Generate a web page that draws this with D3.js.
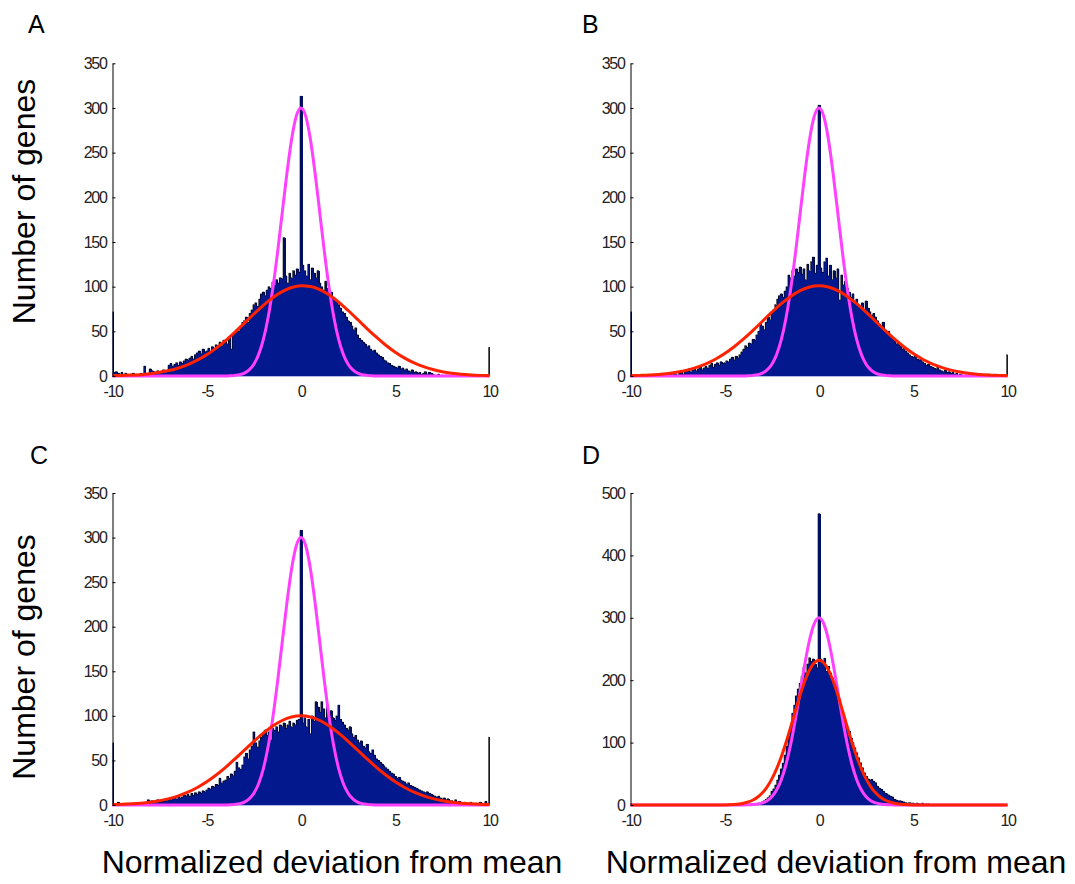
<!DOCTYPE html>
<html>
<head>
<meta charset="utf-8">
<script src="https://cdn.jsdelivr.net/npm/d3@7"></script>
<style>
body { margin: 0; background: #fff; }
svg { display: block; }
.axis text { font-family: "Liberation Sans", Arial, sans-serif; font-size: 16px; fill: #222; letter-spacing: -1.3px; }
.big { font-family: "Liberation Sans", Arial, sans-serif; font-size: 32px; fill: #000; }
.letter { font-family: "Liberation Sans", Arial, sans-serif; font-size: 25px; fill: #000; }
</style>
</head>
<body>
<div id="chart"></div>
<script>
const W = 1075, H = 884;

// histogram bins: centres -10, -9.9, ... 10 (201 bins, width 0.1)
const binWidth = 0.1;
const binCenters = d3.range(201).map(i => -10 + i / 10);

const xTicks = [-10, -5, 0, 5, 10];

// bin counts, one row per unit of x
const histA = [
  72, 4, 5, 3, 2, 4, 1, 3, 2, 1,
  2, 3, 1, 2, 1, 3, 2, 11, 2, 3,
  8, 6, 5, 4, 6, 5, 4, 7, 6, 5,
  12, 14, 11, 13, 15, 12, 16, 14, 17, 19,
  18, 20, 22, 19, 24, 26, 28, 25, 30, 27,
  28, 31, 26, 33, 30, 35, 32, 38, 34, 40,
  40, 36, 44, 30, 46, 48, 52, 50, 56, 60,
  62, 66, 60, 70, 74, 80, 82, 78, 86, 92,
  94, 90, 96, 100, 98, 105, 102, 108, 104, 110,
  109, 155, 112, 104, 115, 110, 118, 113, 120, 116,
  313, 124, 118, 112, 125, 108, 121, 115, 110, 118,
  104, 100, 96, 106, 98, 92, 94, 88, 86, 84,
  80, 76, 72, 70, 66, 62, 60, 56, 52, 54,
  46, 42, 40, 38, 36, 33, 34, 30, 28, 29,
  26, 24, 22, 21, 18, 17, 15, 14, 12, 11,
  10, 9, 11, 8, 9, 7, 8, 6, 5, 7,
  4, 5, 3, 4, 2, 3, 5, 2, 4, 3,
  2, 1, 1, 2, 0, 1, 0, 1, 0, 0,
  0, 1, 0, 0, 1, 0, 0, 0, 1, 0,
  0, 0, 0, 1, 0, 0, 0, 0, 0, 0,
  32
];

const histB = [
  72, 0, 1, 0, 0, 1, 0, 0, 1, 0,
  0, 1, 0, 0, 1, 0, 2, 0, 1, 1,
  1, 2, 1, 3, 2, 1, 3, 4, 2, 5,
  6, 8, 5, 7, 9, 6, 8, 10, 7, 9,
  11, 9, 12, 14, 10, 13, 15, 12, 16, 14,
  15, 17, 16, 19, 21, 18, 22, 20, 24, 27,
  30, 34, 32, 37, 36, 41, 40, 46, 50, 58,
  56, 52, 60, 66, 63, 70, 74, 80, 86, 90,
  92, 88, 95, 100, 113, 110, 118, 112, 120, 116,
  122, 114, 120, 108, 125, 118, 128, 133, 115, 124,
  303, 121, 116, 128, 132, 112, 124, 108, 118, 110,
  120, 85, 113, 102, 106, 98, 94, 88, 92, 84,
  86, 80, 77, 82, 74, 84, 76, 72, 68, 70,
  66, 62, 58, 55, 60, 52, 48, 50, 45, 42,
  40, 36, 38, 34, 30, 32, 28, 26, 24, 22,
  21, 23, 19, 18, 20, 16, 14, 12, 13, 11,
  10, 9, 8, 10, 7, 6, 5, 7, 4, 5,
  3, 4, 2, 3, 1, 2, 1, 0, 1, 0,
  1, 0, 0, 1, 0, 0, 0, 1, 0, 0,
  2, 0, 0, 0, 1, 0, 0, 0, 0, 0,
  24
];

const histC = [
  70, 1, 0, 3, 0, 1, 0, 0, 1, 0,
  0, 1, 0, 2, 0, 1, 1, 0, 3, 6,
  4, 5, 3, 4, 6, 3, 5, 4, 6, 5,
  7, 6, 8, 9, 7, 10, 8, 9, 11, 10,
  12, 10, 13, 11, 14, 12, 15, 13, 16, 15,
  17, 19, 18, 21, 20, 23, 22, 30, 25, 27,
  28, 32, 30, 35, 33, 38, 48, 42, 40, 45,
  54, 58, 52, 62, 66, 82, 70, 65, 72, 76,
  80, 84, 78, 82, 73, 86, 84, 88, 82, 90,
  88, 92, 86, 90, 94, 88, 92, 90, 95, 96,
  308, 92, 98, 88, 96, 80, 100, 94, 116, 110,
  104, 116, 108, 98, 112, 100, 106, 98, 95, 100,
  112, 96, 93, 90, 86, 84, 88, 80, 76, 78,
  73, 70, 72, 66, 64, 68, 60, 58, 62, 56,
  52, 50, 48, 46, 44, 42, 40, 38, 36, 35,
  32, 30, 31, 28, 27, 26, 24, 25, 22, 21,
  20, 19, 18, 17, 16, 15, 14, 15, 13, 12,
  11, 10, 9, 10, 8, 7, 8, 6, 7, 5,
  5, 4, 6, 3, 4, 3, 2, 3, 2, 1,
  3, 2, 1, 2, 1, 3, 2, 1, 4, 2,
  76
];

const histD = [
  0, 0, 0, 0, 0, 0, 0, 0, 0, 0,
  0, 0, 0, 0, 0, 0, 0, 0, 0, 0,
  0, 0, 0, 0, 0, 0, 0, 0, 0, 0,
  0, 0, 0, 0, 0, 0, 0, 0, 0, 0,
  0, 0, 0, 0, 0, 0, 0, 0, 0, 0,
  1, 0, 0, 0, 0, 1, 0, 0, 0, 1,
  0, 1, 0, 1, 1, 2, 1, 2, 3, 2,
  5, 7, 9, 12, 15, 22, 26, 32, 40, 48,
  58, 67, 80, 94, 110, 124, 147, 160, 175, 186,
  195, 206, 221, 212, 226, 236, 230, 234, 226, 220,
  467, 234, 228, 235, 214, 222, 212, 204, 196, 188,
  178, 170, 150, 142, 136, 124, 118, 108, 100, 92,
  84, 76, 68, 60, 52, 46, 42, 40, 41, 38,
  36, 30, 27, 25, 22, 19, 18, 16, 14, 13,
  9, 8, 7, 7, 6, 5, 4, 3, 4, 3,
  3, 2, 3, 2, 2, 3, 1, 2, 2, 1,
  0, 0, 0, 0, 0, 0, 0, 0, 0, 0,
  0, 0, 0, 0, 0, 0, 0, 0, 0, 0,
  0, 0, 0, 0, 0, 0, 0, 0, 0, 0,
  0, 0, 0, 0, 0, 0, 0, 0, 0, 0,
  0
];

// magenta reference curve (same in every panel)
const normX = [-10, -4, -3.75, -3.5, -3.25, -3, -2.75, -2.5, -2.25, -2, -1.75, -1.5, -1.25, -1, -0.75, -0.5, -0.25,
  0, 0.25, 0.5, 0.75, 1, 1.25, 1.5, 1.75, 2, 2.25, 2.5, 2.75, 3, 3.25, 3.5, 3.75, 4, 10];
const normY = [0, 0.1, 0.3, 0.7, 1.5, 3.3, 6.8, 13.2, 23.9, 40.6, 64.9, 97.4, 137.3, 182.0, 226.4, 264.8, 290.8,
  300, 290.8, 264.8, 226.4, 182.0, 137.3, 97.4, 64.9, 40.6, 23.9, 13.2, 6.8, 3.3, 1.5, 0.7, 0.3, 0.1, 0];

// red fitted curves
const wideX = [-10, -9.5, -9, -8.5, -8, -7.5, -7, -6.5, -6, -5.5, -5, -4.5, -4, -3.5, -3, -2.5, -2, -1.5, -1, -0.5,
  0, 0.5, 1, 1.5, 2, 2.5, 3, 3.5, 4, 4.5, 5, 5.5, 6, 6.5, 7, 7.5, 8, 8.5, 9, 9.5, 10];
const redA = [0.4, 0.6, 1.0, 1.5, 2.6, 4.1, 6.1, 9.0, 12.8, 17.7, 23.8, 31.2, 39.7, 49.2, 59.2, 69.4, 79.1, 87.6, 94.4, 99.0,
  100.9, 100.1, 96.6, 90.6, 82.7, 73.3, 63.3, 53.1, 43.4, 34.4, 26.6, 20.0, 14.6, 10.4, 7.2, 4.8, 3.2, 2.0, 1.2, 0.7, 0.4];
const redB = [0.4, 0.7, 1.1, 1.8, 2.9, 4.4, 6.6, 9.7, 13.7, 18.8, 25.2, 32.8, 41.5, 51.1, 61.3, 71.4, 80.9, 89.1, 95.5, 99.6,
  101, 99.6, 95.5, 89.1, 80.9, 71.4, 61.3, 51.1, 41.5, 32.8, 25.2, 18.8, 13.7, 9.7, 6.6, 4.4, 2.9, 1.8, 1.1, 0.7, 0.4];
const redC = [0.5, 0.8, 1.3, 2.0, 3.1, 4.8, 7.1, 10.3, 14.4, 19.7, 26.1, 33.7, 42.3, 51.8, 61.7, 71.5, 80.6, 88.6, 94.8, 98.7,
  100, 98.7, 94.8, 88.6, 80.6, 71.5, 61.7, 51.8, 42.3, 33.7, 26.1, 19.7, 14.4, 10.3, 7.1, 4.8, 3.1, 2.0, 1.3, 0.8, 0.5];
const narrowX = [-10, -5, -4.5, -4, -3.75, -3.5, -3.25, -3, -2.75, -2.5, -2.25, -2, -1.75, -1.5, -1.25, -1, -0.75, -0.5, -0.25,
  0, 0.25, 0.5, 0.75, 1, 1.25, 1.5, 1.75, 2, 2.25, 2.5, 2.75, 3, 3.25, 3.5, 3.75, 4, 4.5, 5, 10];
const redD = [0, 0.2, 0.9, 2.9, 4.9, 8.0, 12.8, 19.6, 29.1, 41.8, 57.9, 77.4, 100.1, 125.1, 151.1, 176.4, 198.8, 216.6, 228,
  232, 228, 216.6, 198.8, 176.4, 151.1, 125.1, 100.1, 77.4, 57.9, 41.8, 29.1, 19.6, 12.8, 8.0, 4.9, 2.9, 0.9, 0.2, 0];

const NAVY = "#02188c", MAGENTA = "#ff40ff", RED = "#ff2200";
const PLOT_W = 377;

const panels = [
  {letter: "A", left: 112.5, top: 63.3, bottom: 376, yMax: 350, yStep: 50, hist: histA, redX: wideX, redY: redA, lx: 28, ly: 33},
  {letter: "B", left: 630.5, top: 63.3, bottom: 376, yMax: 350, yStep: 50, hist: histB, redX: wideX, redY: redB, lx: 582, ly: 33},
  {letter: "C", left: 112.5, top: 493, bottom: 805, yMax: 350, yStep: 50, hist: histC, redX: wideX, redY: redC, lx: 30, ly: 464},
  {letter: "D", left: 630.5, top: 493, bottom: 805, yMax: 500, yStep: 100, hist: histD, redX: narrowX, redY: redD, lx: 582, ly: 464}
];

const svg = d3.select("#chart").append("svg")
    .attr("width", W)
    .attr("height", H);

panels.forEach(function(p, i) {
  const h = p.bottom - p.top;
  const g = svg.append("g").attr("transform", `translate(${p.left},${p.top})`);

  const x = d3.scaleLinear().domain([-10, 10]).range([0, PLOT_W]);
  const y = d3.scaleLinear().domain([0, p.yMax]).range([h, 0]);

  g.append("clipPath").attr("id", "clip" + i)
    .append("rect")
      .attr("x", 0).attr("y", -2)
      .attr("width", PLOT_W + 0.5).attr("height", h + 2);

  const bins = binCenters.map((c, j) => ({c: c, v: p.hist[j]}));
  const plot = g.append("g").attr("clip-path", `url(#clip${i})`);

  plot.selectAll("rect.bar").data(bins).join("rect")
      .attr("class", "bar")
      .attr("x", d => x(d.c - binWidth / 2))
      .attr("width", x(binWidth) - x(0) + 0.6)
      .attr("y", d => y(d.v))
      .attr("height", d => h - y(d.v))
      .attr("fill", NAVY)
      .attr("shape-rendering", "crispEdges");

  // black bar edges along the top of the histogram
  plot.append("path").datum(bins)
      .attr("d", d3.line().x(d => x(d.c)).y(d => y(d.v)).curve(d3.curveStep))
      .attr("fill", "none")
      .attr("stroke", "#000")
      .attr("stroke-width", 1)
      .attr("stroke-opacity", 0.65);

  // x axis
  const xAxis = g.append("g").attr("class", "axis")
      .attr("transform", `translate(0,${h})`)
      .call(d3.axisBottom(x).tickValues(xTicks).tickFormat(d => String(d))
        .tickSizeInner(0).tickSizeOuter(0).tickPadding(10));
  xAxis.select(".domain").attr("stroke", "#b8b8e6");

  const curve = d3.line().x(d => x(d[0])).y(d => y(d[1])).curve(d3.curveMonotoneX);

  g.append("path").datum(d3.zip(normX, normY))
      .attr("d", curve)
      .attr("fill", "none")
      .attr("stroke", MAGENTA)
      .attr("stroke-width", 3);

  g.append("path").datum(d3.zip(p.redX, p.redY))
      .attr("d", curve)
      .attr("fill", "none")
      .attr("stroke", RED)
      .attr("stroke-width", 3);

  // y axis
  g.append("g").attr("class", "axis")
      .call(d3.axisLeft(y).tickValues(d3.range(0, p.yMax + 1, p.yStep)).tickFormat(d => String(d))
        .tickSizeInner(-3).tickSizeOuter(0).tickPadding(6))
      .select(".domain").attr("stroke", "#000");

  svg.append("text")
      .attr("class", "letter")
      .attr("x", p.lx)
      .attr("y", p.ly)
      .text(p.letter);
});

// shared axis titles
[201.5, 657].forEach(function(cy) {
  svg.append("text")
      .attr("class", "big")
      .attr("text-anchor", "middle")
      .attr("transform", `translate(35,${cy}) rotate(-90)`)
      .text("Number of genes");
});

[332, 836].forEach(function(cx) {
  svg.append("text")
      .attr("class", "big")
      .attr("text-anchor", "middle")
      .attr("x", cx)
      .attr("y", 873)
      .text("Normalized deviation from mean");
});
</script>
</body>
</html>
